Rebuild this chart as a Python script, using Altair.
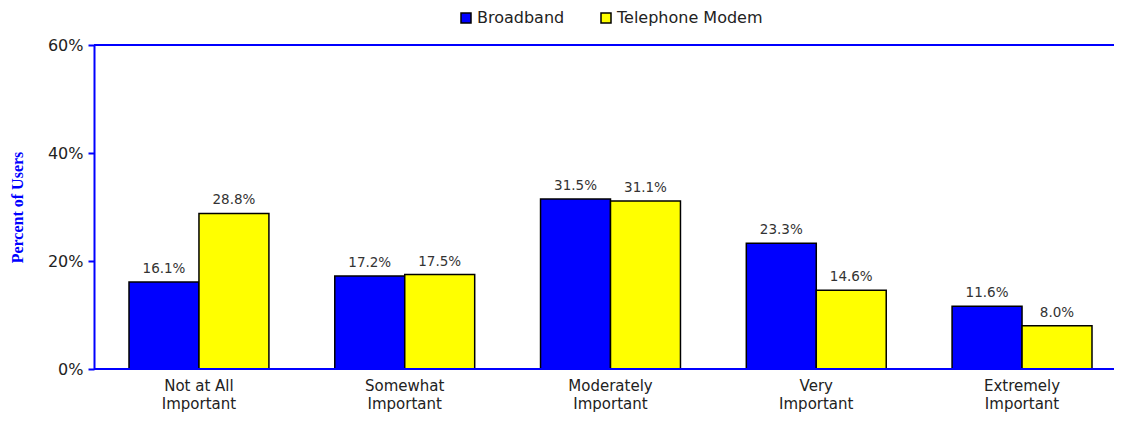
import altair as alt
import pandas as pd

categories = ["Not at All|Important", "Somewhat|Important", "Moderately|Important", "Very|Important", "Extremely|Important"]
series = ["Broadband", "Telephone Modem"]
broadband = [16.1, 17.2, 31.5, 23.3, 11.6]
modem = [28.8, 17.5, 31.1, 14.6, 8.0]
colors = ["#0000FF", "#FFFF00"]
frame_lines = [0.0, 0.6]

rows = []
for i, c in enumerate(categories):
    rows.append({"cat": c, "series": series[0], "value": broadband[i] / 100})
    rows.append({"cat": c, "series": series[1], "value": modem[i] / 100})
df = pd.DataFrame(rows)

FONT = "DejaVu Sans"

x = alt.X("cat:N", sort=categories, title=None,
          scale=alt.Scale(paddingInner=0.32, paddingOuter=0, range=[35, 998]),
          axis=alt.Axis(labelExpr="split(datum.label, '|')", labelAngle=0, ticks=False,
                        domain=False, labelFont=FONT, labelFontSize=15,
                        labelColor="#222222", labelPadding=9, labelLineHeight=18))
xo = alt.XOffset("series:N", sort=series, scale=alt.Scale(paddingInner=0, paddingOuter=0))
y = alt.Y("value:Q", scale=alt.Scale(domain=[0, 0.6]),
          title="Percent of Users",
          axis=alt.Axis(values=[0, 0.2, 0.4, 0.6], format=".0%", grid=False,
                        domainColor="#0000FF", domainWidth=2, tickColor="#0000FF", tickWidth=2,
                        tickSize=6, labelFont=FONT, labelFontSize=16, labelColor="#222222",
                        labelPadding=5, titleFont="Liberation Serif", titleFontSize=16,
                        titleFontWeight="bold", titleColor="#0000FF", titleX=-69, titleY=162,
                        titleAngle=-90, titleAlign="center"))

bars = alt.Chart(df).mark_bar(stroke="black", strokeWidth=1.5).encode(
    x=x, xOffset=xo, y=y,
    color=alt.Color("series:N", sort=series, scale=alt.Scale(domain=series, range=colors),
                    legend=alt.Legend(title=None, orient="none", direction="horizontal",
                                      legendX=364, legendY=-35, symbolType="square",
                                      symbolSize=100, symbolStrokeColor="black",
                                      symbolStrokeWidth=1.5, labelFont=FONT, labelFontSize=16,
                                      labelColor="#222222", columnPadding=33, labelOffset=3)),
)

labels = alt.Chart(df).mark_text(dy=-13, font=FONT, fontSize=13.5, color="#333333").encode(
    x=x, xOffset=xo, y=y,
    text=alt.Text("value:Q", format=".1%"),
)

frame = alt.Chart(pd.DataFrame({"v": frame_lines})).mark_rule(color="#0000FF", strokeWidth=2).encode(
    y=alt.Y("v:Q", scale=alt.Scale(domain=[0, 0.6]))
)

chart = alt.layer(bars, labels, frame).properties(
    width=1020, height=324,
    autosize=alt.AutoSizeParams(type="none"),
    padding={"left": 86, "top": 37, "right": 0, "bottom": 47},
).configure_view(stroke=None).configure(background="white")

chart.save("out.html", embed_options={"renderer": "svg", "actions": False})
